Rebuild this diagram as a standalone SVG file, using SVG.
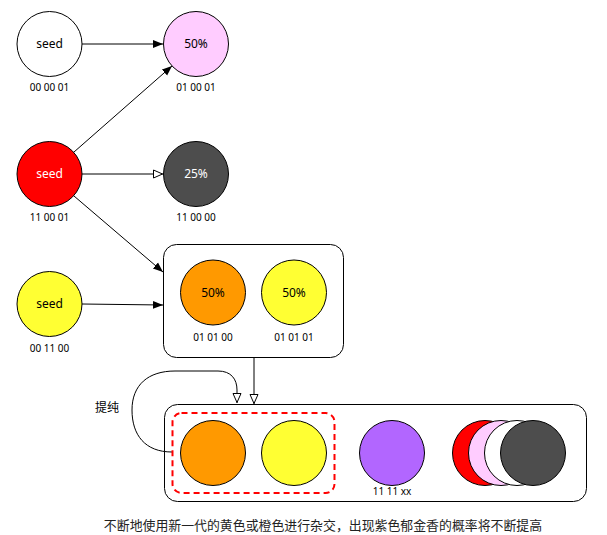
<svg xmlns="http://www.w3.org/2000/svg" width="607" height="535" viewBox="0 0 607 535">
<style>
.n{stroke:#000;stroke-width:1}
.t{font-family:"Noto Sans","DejaVu Sans",sans-serif;font-size:12px;text-anchor:middle}
.l{font-family:"Noto Sans","DejaVu Sans",sans-serif;font-size:10px;text-anchor:middle}
.c{fill:none;stroke:#000;stroke-width:1}
.box{fill:#fff;stroke:#000;stroke-width:1}
</style>
<defs>
<marker id="af" viewBox="0 0 10 10" refX="10" refY="5" markerWidth="10" markerHeight="10" markerUnits="userSpaceOnUse" orient="auto"><path d="M0,1 L10,5 L0,9 Z" fill="#000"/></marker>
<marker id="ao" viewBox="0 0 10 10" refX="10" refY="5" markerWidth="10" markerHeight="10" markerUnits="userSpaceOnUse" orient="auto"><path d="M0.5,1 L9.5,5 L0.5,9 Z" fill="#fff" stroke="#000" stroke-width="1"/></marker>
</defs>
<g id="box1"><rect class="box" x="163.5" y="244.5" width="180" height="113" rx="13"/></g>
<g id="box2"><rect class="box" x="164.5" y="404.5" width="422" height="97" rx="13"/></g>
<g id="connectors">
<line class="c" x1="82" y1="44" x2="163" y2="44" marker-end="url(#af)"/>
<line class="c" x1="74" y1="152" x2="172" y2="66" marker-end="url(#af)"/>
<line class="c" x1="82" y1="174" x2="163" y2="174" marker-end="url(#ao)"/>
<line class="c" x1="74" y1="196" x2="163" y2="272" marker-end="url(#af)"/>
<line class="c" x1="82" y1="304" x2="163" y2="305" marker-end="url(#af)"/>
<line class="c" x1="254" y1="358" x2="254" y2="404" marker-end="url(#ao)"/>
<path class="c" d="M172,452 C145,452 132,435 132,410 C132,385 148,371 175,371 L218,371 C231,371 237,379 237,390 L237,403" marker-end="url(#ao)"/>
</g>
<g id="n-white"><circle class="n" cx="49.5" cy="44" r="32.5" fill="#fff"/><text class="t" x="49.5" y="48">seed</text><text class="l" x="49.5" y="91">00 00 01</text></g>
<g id="n-pink"><circle class="n" cx="196" cy="44" r="32.5" fill="#FFCCFF"/><text class="t" x="196" y="48">50%</text><text class="l" x="196" y="91">01 00 01</text></g>
<g id="n-red"><circle class="n" cx="49.5" cy="174" r="32.5" fill="#FF0000"/><text class="t" x="49.5" y="178" fill="#fff">seed</text><text class="l" x="49.5" y="221">11 00 01</text></g>
<g id="n-dark"><circle class="n" cx="196" cy="174" r="32.5" fill="#4D4D4D"/><text class="t" x="196" y="178" fill="#fff">25%</text><text class="l" x="196" y="221">11 00 00</text></g>
<g id="n-yellow"><circle class="n" cx="49.5" cy="304" r="32.5" fill="#FFFF33"/><text class="t" x="49.5" y="308">seed</text><text class="l" x="49.5" y="352">00 11 00</text></g>
<g id="n-orange1"><circle class="n" cx="213" cy="292.5" r="32.5" fill="#FF9900"/><text class="t" x="213" y="297">50%</text><text class="l" x="213" y="341">01 01 00</text></g>
<g id="n-yellow1"><circle class="n" cx="294" cy="292.5" r="32.5" fill="#FFFF33"/><text class="t" x="294" y="297">50%</text><text class="l" x="294" y="341">01 01 01</text></g>
<g id="dashed"><rect x="172.5" y="413" width="162" height="80" rx="9" fill="none" stroke="#FF0000" stroke-width="2" stroke-dasharray="6,4"/></g>
<g id="n-orange2"><circle class="n" cx="213" cy="453" r="32.5" fill="#FF9900"/></g>
<g id="n-yellow2"><circle class="n" cx="294" cy="453" r="32.5" fill="#FFFF33"/></g>
<g id="n-purple"><circle class="n" cx="392" cy="453" r="32.5" fill="#B266FF"/><text class="l" x="392" y="495">11 11 xx</text></g>
<g id="n-stack">
<circle class="n" cx="485" cy="453" r="32.5" fill="#FF0000"/>
<circle class="n" cx="501" cy="453" r="32.5" fill="#FFCCFF"/>
<circle class="n" cx="517" cy="453" r="32.5" fill="#fff"/>
<circle class="n" cx="533" cy="453" r="32.5" fill="#4D4D4D"/>
</g>
<text x="107" y="412" style="font-family:'Noto Sans CJK SC',sans-serif;font-size:12px;text-anchor:middle">提纯</text>
<text x="323" y="530" style="font-family:'Noto Sans CJK SC',sans-serif;font-size:12.9px;text-anchor:middle;fill:#222">不断地使用新一代的黄色或橙色进行杂交，出现紫色郁金香的概率将不断提高</text>
</svg>
